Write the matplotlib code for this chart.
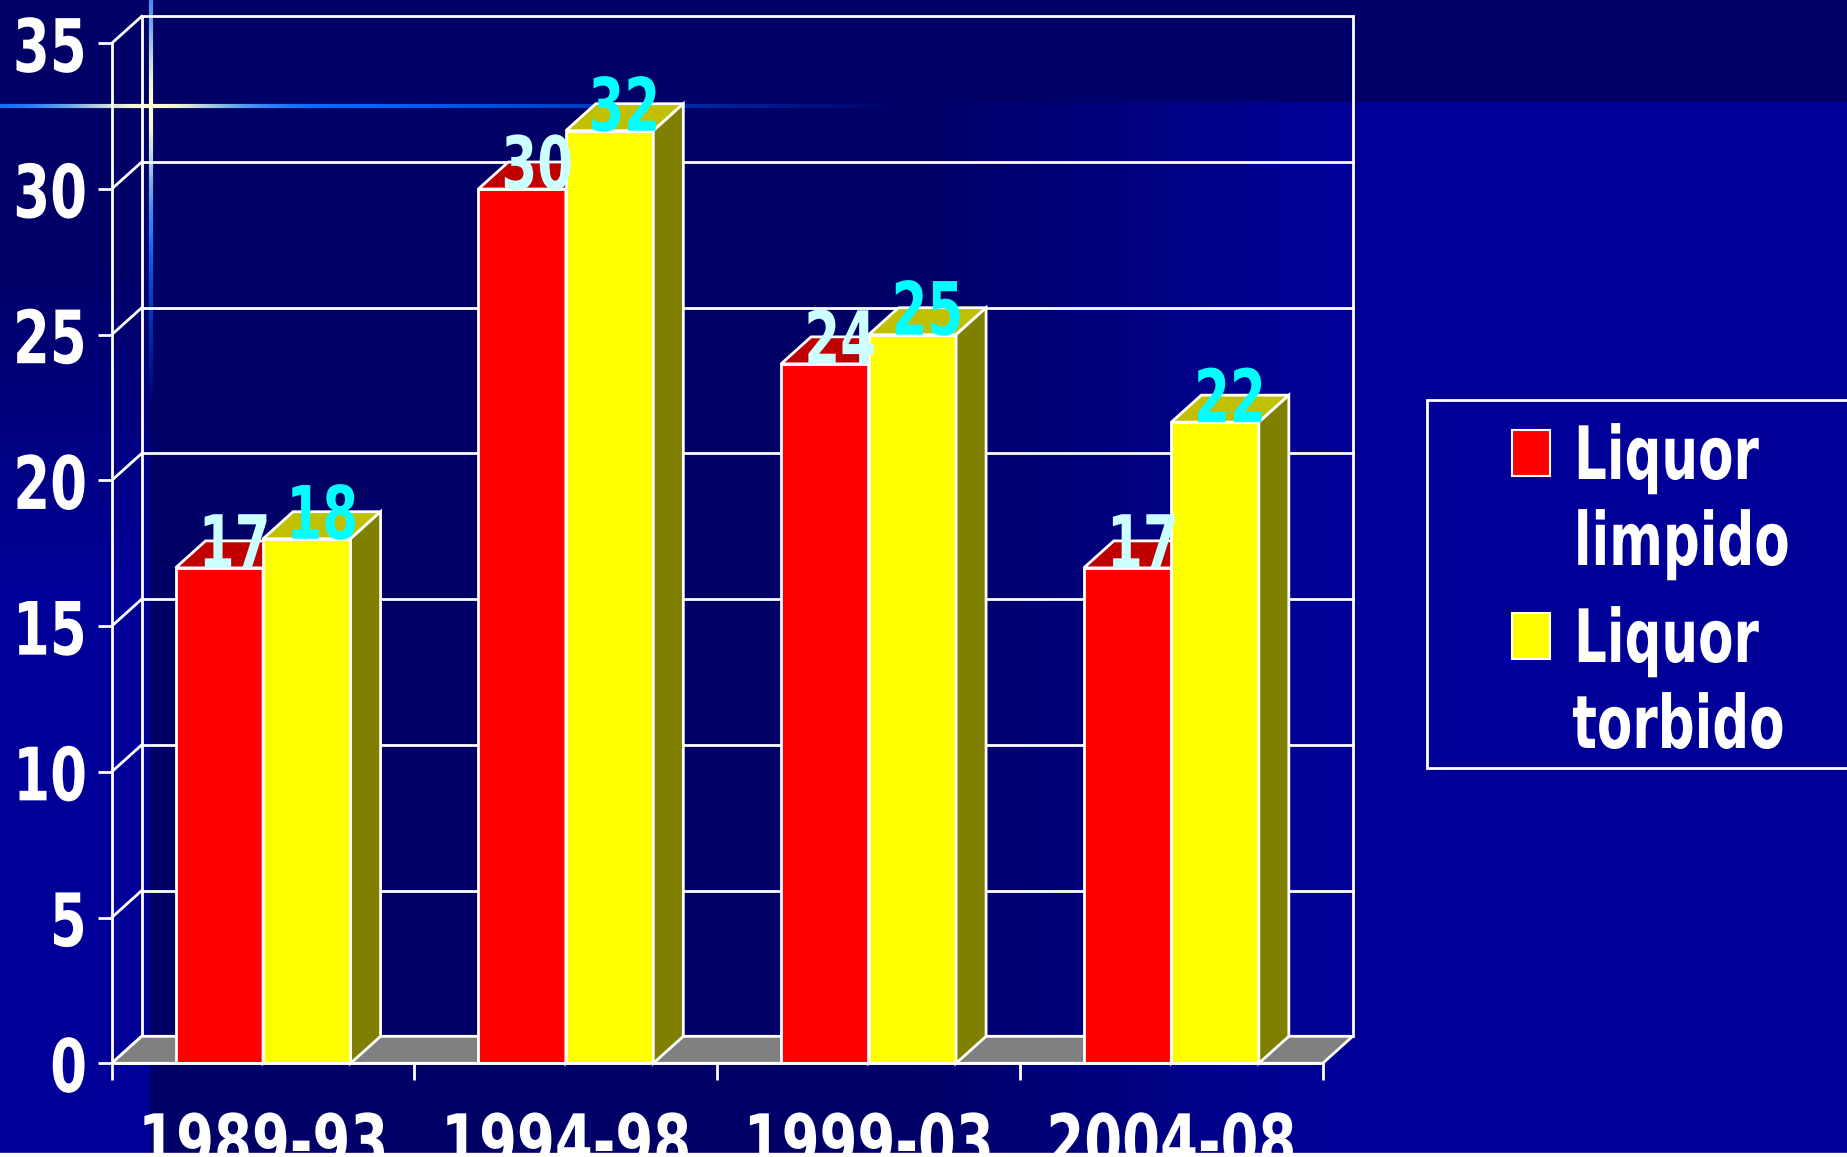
import numpy as np
import matplotlib.pyplot as plt
from matplotlib.patches import Rectangle, Polygon
from matplotlib.collections import LineCollection
from matplotlib.patheffects import AbstractPathEffect
from matplotlib.transforms import Affine2D

# dati
periods = ['1989-93', '1994-98', '1999-03', '2004-08']
limpido = [17, 30, 24, 17]
torbido = [18, 32, 25, 22]
series_names = ['Liquor\nlimpido', 'Liquor\ntorbido']
y_ticks = [0, 5, 10, 15, 20, 25, 30, 35]

W, H = 1847, 1157
NAVY = np.array([0, 0, 0x66]) / 255
BLUE = np.array([0, 0, 0x99]) / 255
FS = 53

plt.rcParams['font.family'] = ['DejaVu Sans']
plt.rcParams['font.weight'] = 'bold'


class Squeeze(AbstractPathEffect):
    """Stringe il testo in orizzontale attorno al punto di ancoraggio."""

    def __init__(self, anchor='center', sx=0.70):
        super().__init__()
        self.anchor = anchor
        self.sx = sx

    def draw_path(self, renderer, gc, tpath, affine, rgbFace=None):
        ext = tpath.get_extents(affine)
        x0 = {'left': ext.x0, 'right': ext.x1,
              'center': (ext.x0 + ext.x1) / 2}[self.anchor]
        affine = affine + Affine2D().translate(-x0, 0).scale(self.sx, 1).translate(x0, 0)
        renderer.draw_path(gc, tpath, affine, rgbFace)


fig = plt.figure(figsize=(W / 100, H / 100), dpi=100, facecolor=BLUE)

# sfondo (coordinate in pixel)
bg = fig.add_axes([0, 0, 1, 1], zorder=-1)
bg.set_xlim(0, W)
bg.set_ylim(H, 0)
bg.axis('off')

yy, xx = np.mgrid[0:H, 0:W] + 0.5
t = np.clip((xx - 900) / 450, 0, 1)
left = xx < 150
t[left] = np.clip((yy[left] - 250) / 350, 0, 1)
t[yy < 102] = 0
img = NAVY + t[..., None] * (BLUE - NAVY)
bg.imshow(img, extent=[0, W, H, 0], aspect='auto', interpolation='nearest')


def glow(x0, y0, x1, y1, cx, cy, fade_start, fade_end, n=600):
    s = np.linspace(0, 1, n + 1)
    xs = x0 + (x1 - x0) * s
    ys = y0 + (y1 - y0) * s
    pts = np.column_stack([xs, ys])
    segs = np.stack([pts[:-1], pts[1:]], axis=1)
    d = np.hypot((xs[:-1] + xs[1:]) / 2 - cx, (ys[:-1] + ys[1:]) / 2 - cy)
    core = np.exp(-(d / 90) ** 2)[:, None]
    rgb = core * np.array([1.0, 1.0, 0.8]) + (1 - core) * np.array([0.0, 0.4, 1.0])
    alpha = np.clip((fade_end - d) / (fade_end - fade_start), 0, 1)
    cols = np.column_stack([rgb, alpha])
    bg.add_collection(LineCollection(segs, colors=cols, linewidths=3))


# stella in alto a sinistra
glow(0, 106, 900, 106, 151, 106, 220, 750)
glow(151, 0, 151, 400, 151, 106, 130, 300)

# grafico
L, R, B0, T0 = 111.7, 1322.7, 1063.3, 43.3
ax = fig.add_axes([L / W, (H - B0) / H, (R - L) / W, (B0 - T0) / H])
ax.set_xlim(0, len(periods))
ax.set_ylim(0, 35)
ax.patch.set_visible(False)

px_x = (R - L) / len(periods)
px_y = (B0 - T0) / 35
DX = 30 / px_x
DY = 27 / px_y
BW = 87.5 / px_x
n = len(periods)
lw = 2

# pareti e griglia
ax.add_patch(Rectangle((DX, DY), n, 35, fill=False, ec='white', lw=lw,
                       zorder=1, clip_on=False))
for v in y_ticks:
    ax.plot([0, DX], [v, v + DY], color='white', lw=lw, zorder=1, clip_on=False)
    if 0 < v < 35:
        ax.plot([DX, n + DX], [v + DY, v + DY], color='white', lw=lw,
                zorder=1, clip_on=False)

ax.add_patch(Polygon([(0, 0), (n, 0), (n + DX, DY), (DX, DY)], fc='#808080',
                     ec='white', lw=lw, zorder=2, clip_on=False))

centers = np.arange(n) + 0.5
styles = [
    (limpido, -BW, '#FF0000', '#C00000', '#800000', '#CCFFFF'),
    (torbido, 0.0, '#FFFF00', '#C0C000', '#808000', '#00FFFF'),
]
for vals, off, front, top, side, lab_col in styles:
    xs = centers + off
    ax.bar(xs, vals, width=BW, align='edge', color=front, edgecolor='white',
           linewidth=lw, zorder=3)
    for x0, v in zip(xs, vals):
        x1 = x0 + BW
        ax.add_patch(Polygon([(x0, v), (x0 + DX, v + DY), (x1 + DX, v + DY), (x1, v)],
                             fc=top, ec='white', lw=lw, zorder=3, clip_on=False))
        ax.add_patch(Polygon([(x1, 0), (x1, v), (x1 + DX, v + DY), (x1 + DX, DY)],
                             fc=side, ec='white', lw=lw, zorder=3, clip_on=False))

for vals, off, front, top, side, lab_col in styles:
    for x0, v in zip(centers + off, vals):
        ax.text(x0 + BW / 2 + DX / 2, v, str(v), ha='center', va='baseline',
                color=lab_col, fontsize=FS, zorder=5, clip_on=False,
                path_effects=[Squeeze('center')])

# assi
for s in ['top', 'right']:
    ax.spines[s].set_visible(False)
for s in ['left', 'bottom']:
    ax.spines[s].set_color('white')
    ax.spines[s].set_linewidth(lw)
    ax.spines[s].set_zorder(4)
ax.set_yticks(y_ticks)
ax.set_xticks(range(n + 1))
ax.tick_params(axis='y', colors='white', length=10, width=lw, pad=7, labelsize=FS)
ax.tick_params(axis='x', colors='white', length=12, width=lw, labelbottom=False)
for lbl in ax.get_yticklabels():
    lbl.set_path_effects([Squeeze('right', 0.72)])

lab_y = -(1167 - B0) / (B0 - T0)
for c, name in zip(centers, periods):
    ax.text(c, lab_y, name, transform=ax.get_xaxis_transform(), ha='center',
            va='baseline', color='white', fontsize=FS, clip_on=False,
            path_effects=[Squeeze('center', 0.74)])

# legenda
bg.add_patch(Rectangle((1427, 400), 500, 368, fc=BLUE, ec='white', lw=2))
leg_colors = ['#FF0000', '#FFFF00']
for i, (name, col) in enumerate(zip(series_names, leg_colors)):
    base = 479 + i * 183
    bg.add_patch(Rectangle((1512, base - 49), 38, 46, fc=col, ec='white', lw=1.5))
    for k, line in enumerate(name.split('\n')):
        bg.text(1572, base + k * 86, line, ha='left', va='baseline',
                color='white', fontsize=FS, path_effects=[Squeeze('left')])

fig.add_artist(Rectangle((0, 0), 1, 4 / H, transform=fig.transFigure,
                         color='white', zorder=10))

fig.savefig('out.png', dpi=100, facecolor=BLUE)
